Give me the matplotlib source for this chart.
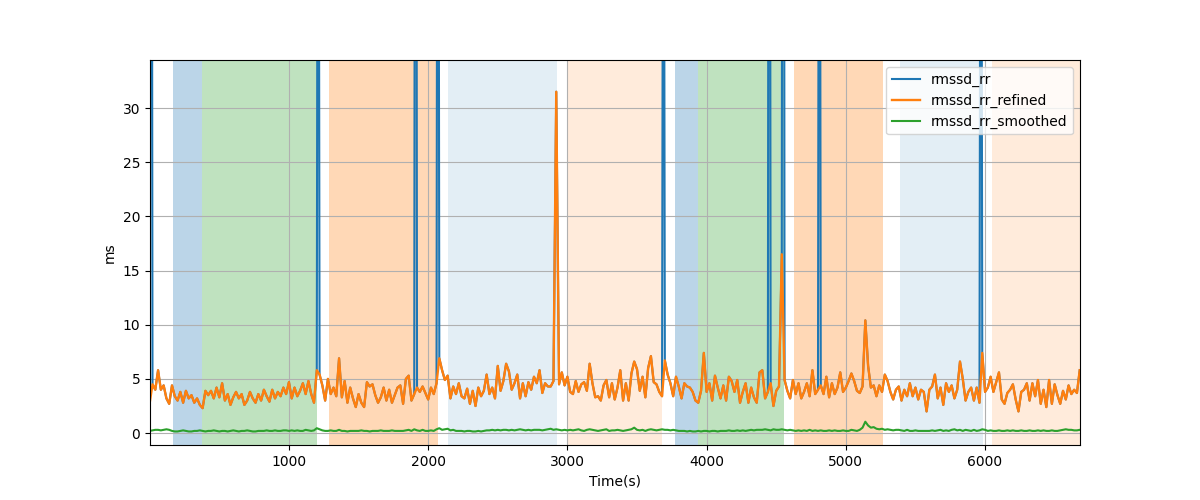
import numpy as np
import matplotlib
matplotlib.use('Agg')
import matplotlib.pyplot as plt

# tempo (s), uma amostra a cada 20 s
time = np.arange(0, 6681, 20)

# rmssd refinado (ms)
rmssd_rr_refined = [
    2.8, 4.5, 4.0, 5.8, 4.0, 4.4, 3.2, 2.7, 4.4, 3.4, 3.0, 3.8, 2.8, 3.9, 3.2, 3.5, 2.8, 3.2, 2.6, 2.3,
    3.9, 3.5, 3.9, 3.2, 4.2, 3.3, 4.6, 3.0, 3.6, 2.6, 3.3, 3.8, 3.2, 3.6, 2.6, 3.0, 3.8, 3.2, 2.8, 3.6,
    3.0, 4.0, 3.4, 2.9, 4.0, 3.2, 3.8, 3.4, 4.2, 3.6, 4.7, 3.2, 4.2, 3.4, 3.9, 4.6, 3.6, 4.8, 3.6, 2.8,
    5.8, 5.4, 4.4, 3.0, 5.0, 3.6, 4.2, 3.4, 6.9, 3.3, 4.8, 2.8, 4.2, 3.2, 2.4, 3.6, 2.8, 2.4, 4.7, 4.3,
    4.5, 3.5, 2.8, 3.3, 4.2, 3.0, 4.0, 2.8, 3.5, 4.2, 4.4, 2.7, 5.0, 5.3, 3.0, 3.6, 4.2, 3.8, 4.3, 3.7,
    3.1, 4.2, 3.6, 4.6, 6.9, 5.8, 4.9, 5.3, 3.2, 4.3, 3.6, 4.6, 3.4, 3.2, 4.1, 2.7, 3.9, 2.5, 4.2, 3.4,
    3.9, 5.4, 3.6, 4.2, 3.2, 6.2, 3.9, 4.8, 6.4, 5.7, 4.0, 4.6, 5.4, 3.2, 4.6, 3.4, 4.7, 4.0, 5.2, 4.6,
    5.8, 3.7, 4.6, 4.3, 4.3, 4.8, 31.5, 4.5, 5.6, 4.4, 5.2, 3.8, 3.6, 4.8, 3.8, 4.5, 4.7, 3.9, 6.4, 4.6,
    3.3, 3.4, 3.0, 4.4, 4.9, 3.3, 4.6, 3.1, 4.2, 5.8, 3.0, 4.6, 3.0, 5.5, 6.6, 5.9, 3.9, 5.2, 3.3, 6.0,
    7.1, 4.7, 4.5, 3.8, 3.4, 6.7, 5.4, 4.6, 3.4, 5.2, 4.3, 3.2, 4.6, 4.3, 4.2, 3.8, 3.0, 2.8, 3.9, 7.4,
    3.8, 4.6, 3.0, 5.3, 4.2, 3.2, 4.4, 3.0, 5.2, 4.8, 3.8, 4.9, 2.8, 3.8, 4.6, 2.8, 4.2, 3.3, 2.8, 5.6,
    5.8, 3.2, 3.8, 4.6, 2.5, 3.9, 4.3, 16.5, 4.9, 3.9, 3.2, 4.9, 3.6, 4.6, 3.2, 3.8, 4.6, 3.4, 5.8, 3.6,
    4.0, 4.4, 3.6, 5.2, 3.3, 4.6, 3.6, 4.2, 5.6, 3.8, 4.2, 4.8, 5.5, 4.8, 3.9, 3.7, 4.3, 10.4, 6.2, 4.2,
    4.4, 3.4, 4.4, 3.8, 5.4, 4.8, 3.8, 3.1, 4.0, 4.3, 3.0, 4.0, 3.4, 4.6, 3.4, 4.2, 3.1, 4.0, 3.8, 2.0,
    4.0, 4.3, 5.4, 3.2, 4.2, 2.6, 4.6, 3.8, 4.4, 3.2, 4.0, 6.6, 5.0, 3.0, 3.8, 4.2, 3.0, 4.2, 2.8, 7.4,
    3.8, 4.2, 5.2, 3.8, 4.7, 5.6, 3.1, 2.7, 3.7, 4.0, 4.5, 3.1, 2.0, 3.8, 4.0, 4.6, 3.0, 4.6, 3.4, 4.9,
    2.7, 4.0, 2.4, 4.9, 2.7, 4.5, 3.5, 2.7, 3.9, 3.1, 4.4, 3.6, 4.0, 3.7, 5.8,
]

# rmssd suavizado (ms)
rmssd_rr_smoothed = [
    0.2, 0.25, 0.3, 0.3, 0.25, 0.3, 0.35, 0.3, 0.2, 0.15, 0.15, 0.2, 0.25, 0.2, 0.15, 0.15, 0.2, 0.2, 0.25, 0.2,
    0.15, 0.2, 0.2, 0.25, 0.2, 0.15, 0.2, 0.2, 0.15, 0.2, 0.25, 0.2, 0.15, 0.2, 0.2, 0.25, 0.2, 0.15, 0.15, 0.2,
    0.2, 0.2, 0.25, 0.2, 0.2, 0.25, 0.2, 0.2, 0.25, 0.25, 0.2, 0.25, 0.2, 0.25, 0.2, 0.2, 0.3, 0.25, 0.2, 0.25,
    0.45, 0.35, 0.25, 0.2, 0.2, 0.25, 0.2, 0.2, 0.3, 0.2, 0.2, 0.15, 0.2, 0.2, 0.2, 0.2, 0.25, 0.2, 0.2, 0.15,
    0.2, 0.2, 0.2, 0.25, 0.2, 0.2, 0.2, 0.25, 0.2, 0.2, 0.2, 0.2, 0.25, 0.3, 0.2, 0.35, 0.25, 0.2, 0.3, 0.2,
    0.2, 0.25, 0.2, 0.35, 0.45, 0.3, 0.35, 0.4, 0.25, 0.3, 0.2, 0.2, 0.2, 0.15, 0.2, 0.2, 0.15, 0.15, 0.2, 0.15,
    0.2, 0.25, 0.25, 0.3, 0.25, 0.3, 0.25, 0.3, 0.3, 0.25, 0.3, 0.25, 0.3, 0.35, 0.3, 0.25, 0.3, 0.25, 0.3, 0.3,
    0.3, 0.25, 0.3, 0.35, 0.4, 0.3, 0.35, 0.3, 0.25, 0.3, 0.25, 0.3, 0.25, 0.3, 0.35, 0.25, 0.2, 0.3, 0.35, 0.3,
    0.25, 0.2, 0.25, 0.3, 0.35, 0.2, 0.25, 0.25, 0.3, 0.25, 0.2, 0.25, 0.3, 0.35, 0.5, 0.3, 0.25, 0.3, 0.2, 0.3,
    0.35, 0.3, 0.25, 0.3, 0.35, 0.3, 0.3, 0.25, 0.3, 0.25, 0.2, 0.2, 0.2, 0.15, 0.2, 0.15, 0.15, 0.2, 0.15, 0.2,
    0.2, 0.15, 0.2, 0.2, 0.15, 0.2, 0.2, 0.2, 0.25, 0.2, 0.2, 0.25, 0.2, 0.25, 0.2, 0.25, 0.3, 0.25, 0.3, 0.3,
    0.3, 0.35, 0.3, 0.25, 0.35, 0.3, 0.3, 0.35, 0.3, 0.25, 0.3, 0.25, 0.2, 0.25, 0.2, 0.25, 0.2, 0.3, 0.2, 0.25,
    0.2, 0.25, 0.2, 0.2, 0.25, 0.2, 0.25, 0.2, 0.2, 0.25, 0.2, 0.2, 0.3, 0.25, 0.2, 0.3, 0.5, 1.05, 0.7, 0.5,
    0.55, 0.4, 0.35, 0.4, 0.3, 0.35, 0.3, 0.25, 0.3, 0.3, 0.25, 0.2, 0.3, 0.2, 0.2, 0.25, 0.2, 0.2, 0.2, 0.2,
    0.2, 0.25, 0.2, 0.25, 0.3, 0.2, 0.25, 0.2, 0.3, 0.35, 0.25, 0.3, 0.2, 0.3, 0.25, 0.2, 0.3, 0.2, 0.25, 0.35,
    0.3, 0.2, 0.25, 0.2, 0.2, 0.25, 0.2, 0.2, 0.25, 0.2, 0.25, 0.2, 0.2, 0.25, 0.2, 0.2, 0.25, 0.2, 0.2, 0.25,
    0.2, 0.25, 0.2, 0.2, 0.25, 0.2, 0.2, 0.25, 0.3, 0.35, 0.3, 0.3, 0.25, 0.25, 0.3,
]

# outliers do rmssd_rr bruto (fora da escala)
rr_spike_times = [10, 1210, 1910, 2070, 3690, 4450, 4550, 4810, 5970]
rr_spike_values = [120, 95, 140, 110, 85, 130, 160, 100, 90]

# fases do experimento
phase_start = [169, 373, 1287, 2144, 3006, 3773, 3940, 4628, 5390, 6048]
phase_end = [373, 1199, 2068, 2925, 3677, 3940, 4556, 5265, 5988, 6683]
phase_color = ['tab:blue', 'tab:green', 'tab:orange', 'tab:blue', 'tab:orange',
               'tab:blue', 'tab:green', 'tab:orange', 'tab:blue', 'tab:orange']
phase_alpha = [0.3, 0.3, 0.3, 0.12, 0.15, 0.3, 0.3, 0.3, 0.12, 0.15]

# serie bruta = refinada + outliers
rr_t = np.concatenate([time, rr_spike_times])
rr_v = np.concatenate([rmssd_rr_refined, rr_spike_values])
order = np.argsort(rr_t, kind='stable')
rr_t, rr_v = rr_t[order], rr_v[order]

fig, ax = plt.subplots(figsize=(12, 5))

for s, e, c, a in zip(phase_start, phase_end, phase_color, phase_alpha):
    ax.axvspan(s, e, color=c, alpha=a, lw=0)

ax.plot(rr_t, rr_v, label='rmssd_rr')
ax.plot(time, rmssd_rr_refined, label='rmssd_rr_refined', lw=1.7)
ax.plot(time, rmssd_rr_smoothed, label='rmssd_rr_smoothed')

ax.set_xlim(2, 6682)
ax.set_ylim(-1.1, 34.43)
ax.set_xlabel('Time(s)')
ax.set_ylabel('ms')
ax.grid(True)
ax.legend(loc='upper right')

fig.savefig('out.png', dpi=100)
